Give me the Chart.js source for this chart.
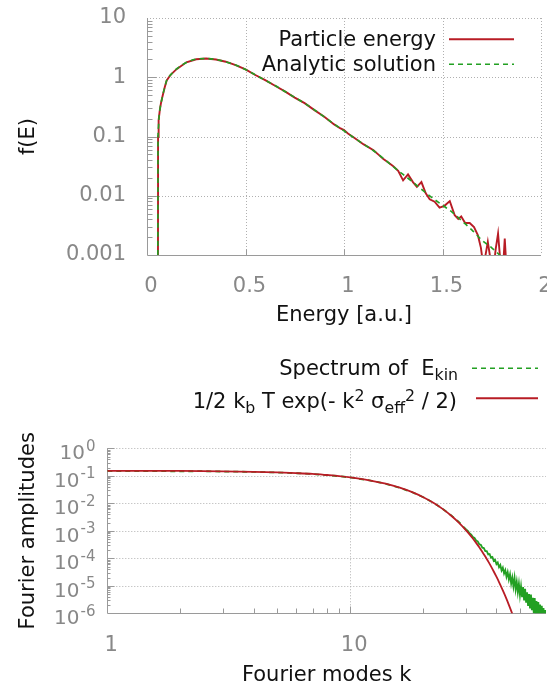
<!DOCTYPE html>
<html><head><meta charset="utf-8">
<script src="https://cdn.jsdelivr.net/npm/chart.js@4.4.1/dist/chart.umd.min.js"></script>
<style>
html,body{margin:0;padding:0;width:547px;height:686px;overflow:hidden;background:#fff;font-family:'DejaVu Sans',sans-serif;}
#c1{position:absolute;left:0;top:0;}
#c2{position:absolute;left:0;top:340px;}
.lg{position:absolute;font-size:21px;line-height:25px;color:#111;white-space:pre;text-align:right;}
.lg sub{font-size:0.75em;vertical-align:-0.3em;line-height:0;}
.lg sup{font-size:0.75em;vertical-align:0.45em;line-height:0;}
</style></head><body>
<canvas id="c1" width="547" height="340"></canvas>
<canvas id="c2" width="547" height="352"></canvas>
<div class="lg" style="right:111px;top:27px">Particle energy</div>
<div class="lg" style="right:111px;top:52px">Analytic solution</div>
<div class="lg" style="right:89px;top:356px">Spectrum of  E<sub>kin</sub></div>
<div class="lg" style="right:90px;top:388.5px">1/2 k<sub>b</sub> T exp(- k<sup>2</sup> σ<sub>eff</sub><sup>2</sup> / 2)</div>
<script>
// ---------- Top chart data ----------
const energyAnalytic = [0.055,0.0555,0.056,0.058,0.06,0.065,0.07,0.075,0.08,0.09,0.1,0.12,0.15,0.2,0.25,0.3,0.35,0.4,0.45,0.5,0.55,0.6,0.65,0.7,0.75,0.8,0.85,0.9,0.95,1.0,1.05,1.1,1.15,1.2,1.25,1.3,1.35,1.4,1.45,1.5,1.55,1.6,1.65,1.7,1.75,1.8,1.85];
const fAnalytic = [0.0005,0.01,0.1,0.141,0.19,0.275,0.355,0.417,0.5,0.676,0.891,1.096,1.38,1.778,2.018,2.065,1.995,1.82,1.603,1.349,1.096,0.891,0.724,0.575,0.457,0.363,0.282,0.214,0.162,0.1245,0.0955,0.0741,0.0575,0.0427,0.0309,0.0229,0.0170,0.0123,0.00912,0.00692,0.00525,0.00372,0.00263,0.00178,0.00132,0.000933,0.00066];
const energyParticle = [0.0556,0.0562,0.058,0.06,0.065,0.07,0.075,0.08,0.09,0.1,0.12,0.15,0.2,0.25,0.3,0.35,0.4,0.45,0.5,0.55,0.6,0.65,0.7,0.75,0.8,0.85,0.9,0.95,0.98,1.0,1.02,1.05,1.1,1.15,1.175,1.2,1.225,1.25,1.275,1.3,1.325,1.35,1.37,1.393,1.415,1.435,1.46,1.485,1.51,1.537,1.562,1.58,1.595,1.615,1.638,1.66,1.68,1.695,1.708,1.73,1.745,1.757,1.77,1.782,1.796,1.806,1.816,1.826,1.85];
const fParticle = [0.0003,0.1,0.14,0.188,0.278,0.352,0.42,0.497,0.68,0.885,1.10,1.37,1.79,2.01,2.07,1.99,1.83,1.60,1.355,1.09,0.895,0.72,0.578,0.454,0.366,0.279,0.216,0.160,0.138,0.128,0.112,0.0965,0.0735,0.0585,0.0495,0.0415,0.0363,0.0316,0.0263,0.0182,0.0229,0.0170,0.0141,0.0170,0.0110,0.0087,0.00794,0.00631,0.00676,0.00813,0.00468,0.00407,0.00447,0.00347,0.00347,0.00295,0.00214,0.00132,0.00063,0.00166,0.00079,0.0005,0.00126,0.00229,0.00063,0.0005,0.0019,0.0005,0.00025];
const energyTicks = [0,0.5,1,1.5,2];
const energyTickLabels = ['0','0.5','1','1.5','2'];
const fTicks = [0.001,0.01,0.1,1,10];
const fTickLabels = ['0.001','0.01','0.1','1','10'];

// ---------- Bottom chart data ----------
const kModel = [1,2,3,4,5,6,7,8,9,10,12,14,16,18,20,22,24,26,28,30,31,32,33,34,35,36,37,38,39,40,41,42,43,44,45,46,47,48];
const ampModel = [0.152,0.150,0.1455,0.140,0.133,0.125,0.117,0.107,0.098,0.088,0.0688,0.0516,0.037,0.0254,0.01665,0.01045,0.00627,0.0036,0.00198,0.00104,7.42e-4,5.23e-4,3.64e-4,2.52e-4,1.71e-4,1.16e-4,7.7e-5,5.09e-5,3.32e-5,2.14e-5,1.37e-5,8.63e-6,5.38e-6,3.33e-6,2.03e-6,1.23e-6,7.33e-7,4.33e-7];
const kSpectrum = [1,1.5,2,2.5,3,4,5,6,7,8,9,10,12,14,16,18,20,22,24,26,28,
  30,30.5,31,31.5,32,32.5,33,33.5,34,34.5,35,35.5,36,36.5,37,37.5,38,38.5,39,39.5,40,40.5,41,41.5,42,42.5,43,43.5,44,
  44.5,45,45.5,46,46.5,47,47.5,48,48.5,49,49.5,50,50.5,51,51.5,52,52.5,53,53.5,54,
  54.5,55,55.5,56,56.5,57,57.5,58,58.5,59,59.5,60,60.5,61,61.5,62,62.5,63,63.5,64];
const ampSpectrum = [0.150,0.148,0.146,0.147,0.143,0.139,0.132,0.124,0.116,0.106,0.097,0.087,0.068,0.051,0.0365,0.0252,0.0166,0.0105,0.0063,0.0037,0.0021,
  1.12e-3,9.89e-4,8.13e-4,7.33e-4,5.96e-4,5.50e-4,4.42e-4,4.12e-4,3.24e-4,3.09e-4,2.43e-4,2.37e-4,1.82e-4,1.82e-4,1.38e-4,1.43e-4,1.05e-4,1.11e-4,8.04e-5,8.81e-5,6.17e-5,7.08e-5,4.73e-5,5.69e-5,3.63e-5,4.57e-5,2.82e-5,3.72e-5,2.14e-5,
  3.16e-5,1.70e-5,2.63e-5,1.20e-5,2.00e-5,9.44e-6,1.95e-5,7.41e-6,1.40e-5,5.89e-6,1.19e-5,4.57e-6,9.55e-6,3.85e-6,9.02e-6,2.95e-6,7.76e-6,2.43e-6,5.82e-6,1.86e-6,
  5.01e-6,1.51e-6,4.79e-6,1.29e-6,3.63e-6,1.01e-6,3.55e-6,8.51e-7,2.79e-6,6.92e-7,2.54e-6,6.17e-7,2.09e-6,5.07e-7,1.86e-6,4.37e-7,1.55e-6,3.80e-7,1.32e-6,3.72e-7];
const kTicks = [1,10];
const kTickLabels = ['1','10'];
const ampTicks = [1,0.1,0.01,0.001,1e-4,1e-5,1e-6];
const ampTickBase = ['10','10','10','10','10','10','10'];
const ampTickExp = ['0','-1','-2','-3','-4','-5','-6'];

// ---------- Styles ----------
const RED = '#b81c25', GREEN = '#22a022';
const GRID = '#b0b0b0', AXIS = '#9a9a9a', TICKTXT = '#888888', TITLE = '#111111';
const FONT = 'DejaVu Sans';

function minorLog(minExp, maxExp){
  const out=[];
  for(let e=minExp;e<maxExp;e++){for(let m=2;m<=9;m++){out.push(m*Math.pow(10,e));}}
  return out;
}

function framePlugin(cfg){
  return {
    id:'frame'+cfg.id,
    beforeDatasetsDraw(chart){
      const {ctx, chartArea:a} = chart;
      const x = chart.scales.x, y = chart.scales.y;
      ctx.save();
      ctx.lineWidth = 1;
      ctx.strokeStyle = GRID; ctx.setLineDash([1,2]);
      cfg.xGrid.forEach(v=>{const px=Math.round(x.getPixelForValue(v))+0.5;ctx.beginPath();ctx.moveTo(px,a.top);ctx.lineTo(px,a.bottom);ctx.stroke();});
      cfg.yGrid.forEach(v=>{const py=Math.round(y.getPixelForValue(v))+0.5;ctx.beginPath();ctx.moveTo(a.left,py);ctx.lineTo(a.right,py);ctx.stroke();});
      ctx.setLineDash([]); ctx.strokeStyle = AXIS;
      const L = Math.round(a.left)+0.5, B = Math.round(a.bottom)+0.5;
      ctx.beginPath(); ctx.moveTo(L,a.top); ctx.lineTo(L,B); ctx.lineTo(a.right,B); ctx.stroke();
      const xt=(vals,len)=>vals.forEach(v=>{const px=Math.round(x.getPixelForValue(v))+0.5;ctx.beginPath();ctx.moveTo(px,B);ctx.lineTo(px,B-len);ctx.stroke();});
      const yt=(vals,len)=>vals.forEach(v=>{const py=Math.round(y.getPixelForValue(v))+0.5;ctx.beginPath();ctx.moveTo(L,py);ctx.lineTo(L+len,py);ctx.stroke();});
      xt(cfg.xMajor,cfg.xMajorLen); xt(cfg.xMinor,cfg.xMinorLen);
      yt(cfg.yMajor,cfg.yMajorLen); yt(cfg.yMinor,cfg.yMinorLen);
      ctx.restore();
    },
    afterDraw(chart){
      const ctx = chart.ctx;
      ctx.save();
      cfg.samples.forEach(s=>{
        ctx.strokeStyle=s.color; ctx.lineWidth=s.width; ctx.setLineDash(s.dash||[]);
        ctx.beginPath(); ctx.moveTo(s.x1,s.y); ctx.lineTo(s.x2,s.y); ctx.stroke();
      });
      ctx.setLineDash([]);
      if(cfg.yLabels){ cfg.yLabels(chart); }
      ctx.restore();
    }
  };
}

// ---------- Top chart ----------
new Chart(document.getElementById('c1'), {
  type:'line',
  data:{datasets:[
    {label:'Analytic solution', data:energyAnalytic.map((e,i)=>({x:e,y:fAnalytic[i]})), borderColor:GREEN, borderWidth:1.6, borderDash:[5,4], pointRadius:0, cubicInterpolationMode:'monotone', order:1},
    {label:'Particle energy', data:energyParticle.map((e,i)=>({x:e,y:fParticle[i]})), borderColor:RED, borderWidth:1.9, pointRadius:0, tension:0, order:2}
  ]},
  options:{
    responsive:false, animation:false,
    layout:{padding:{left:0,top:18,right:6,bottom:0}},
    plugins:{legend:{display:false}, tooltip:{enabled:false}},
    scales:{
      x:{type:'linear', min:0, max:2, grid:{display:false}, border:{display:false},
        afterBuildTicks:s=>{s.ticks=energyTicks.map(v=>({value:v}));},
        afterFit:s=>{s.height=85; s.paddingLeft=0; s.paddingRight=0;},
        ticks:{autoSkip:false, maxRotation:0, minRotation:0, padding:11.4, labelOffset:4, color:TICKTXT, font:{family:FONT,size:21}, callback:(v,i)=>energyTickLabels[i]},
        title:{display:true, text:'Energy [a.u.]', color:TITLE, font:{family:FONT,size:21}, padding:{top:0,bottom:11.4}}},
      y:{type:'logarithmic', min:0.001, max:10, grid:{display:false}, border:{display:false},
        afterBuildTicks:s=>{s.ticks=fTicks.map(v=>({value:v}));},
        afterFit:s=>{s.width=147; s.paddingTop=0; s.paddingBottom=0;},
        ticks:{autoSkip:false, padding:13, color:TICKTXT, font:{family:FONT,size:21}, callback:(v,i)=>fTickLabels[i]},
        title:{display:true, text:'f(E)', color:TITLE, font:{family:FONT,size:21}, padding:{top:16,bottom:0}}}
    }
  },
  plugins:[framePlugin({id:1,
    xGrid:[0.5,1,1.5,2], yGrid:[0.01,0.1,1,10],
    xMajor:[0.5,1,1.5], xMajorLen:6, xMinor:[], xMinorLen:0,
    yMajor:[0.01,0.1,1], yMajorLen:9, yMinor:minorLog(-3,1), yMinorLen:5,
    samples:[{x1:449,x2:514,y:39.3,color:RED,width:2},{x1:449,x2:514,y:64.3,color:GREEN,width:1.5,dash:[5,4]}]
  })]
});

// ---------- Bottom chart ----------
new Chart(document.getElementById('c2'), {
  type:'line',
  data:{datasets:[
    {label:'1/2 k_b T exp(- k^2 sigma_eff^2 / 2)', data:kModel.map((k,i)=>({x:k,y:ampModel[i]})), borderColor:RED, borderWidth:1.8, pointRadius:0, cubicInterpolationMode:'monotone', order:1},
    {label:'Spectrum of E_kin', data:kSpectrum.map((k,i)=>({x:k,y:ampSpectrum[i]})), borderColor:GREEN, borderWidth:1.8, borderDash:[5,4], pointRadius:0, tension:0, order:2,
      segment:{borderDash:c=>(c.p0.parsed.x>=30 ? [] : undefined)}}
  ]},
  options:{
    responsive:false, animation:false,
    layout:{padding:{left:0,top:108.3,right:1,bottom:0}},
    plugins:{legend:{display:false}, tooltip:{enabled:false}},
    scales:{
      x:{type:'logarithmic', min:1, max:64, grid:{display:false}, border:{display:false},
        afterBuildTicks:s=>{s.ticks=kTicks.map(v=>({value:v}));},
        afterFit:s=>{s.height=78.7; s.paddingLeft=0; s.paddingRight=0;},
        ticks:{autoSkip:false, maxRotation:0, minRotation:0, padding:11.6, labelOffset:4, color:TICKTXT, font:{family:FONT,size:21}, callback:(v,i)=>kTickLabels[i]},
        title:{display:true, text:'Fourier modes k', color:TITLE, font:{family:FONT,size:21}, padding:{top:0,bottom:3.4}}},
      y:{type:'logarithmic', min:1e-6, max:1, grid:{display:false}, border:{display:false},
        afterBuildTicks:s=>{s.ticks=ampTicks.map(v=>({value:v}));},
        afterFit:s=>{s.width=107.3; s.paddingTop=0; s.paddingBottom=0;},
        ticks:{display:false},
        title:{display:true, text:'Fourier amplitudes', color:TITLE, font:{family:FONT,size:21}, padding:{top:15.7,bottom:0}}}
    }
  },
  plugins:[framePlugin({id:2,
    xGrid:[10], yGrid:[1,0.1,0.01,0.001,1e-4,1e-5],
    xMajor:[10], xMajorLen:7, xMinor:[2,3,4,5,6,7,8,9,20,30,40,50,60], xMinorLen:5,
    yMajor:[1,0.1,0.01,0.001,1e-4,1e-5], yMajorLen:7, yMinor:minorLog(-6,0), yMinorLen:3,
    samples:[{x1:472,x2:538,y:28.3,color:GREEN,width:1.5,dash:[5,4]},{x1:476,x2:538,y:58.3,color:RED,width:2}],
    yLabels:(chart)=>{
      const ctx=chart.ctx, y=chart.scales.y;
      ctx.fillStyle=TICKTXT; ctx.textBaseline='alphabetic'; ctx.textAlign='right';
      ampTicks.forEach((v,i)=>{
        const py=y.getPixelForValue(v);
        ctx.font='15px "'+FONT+'"';
        const ws=ctx.measureText(ampTickExp[i]).width;
        ctx.fillText(ampTickExp[i],95.5,py+10.8-8.5);
        ctx.font='20px "'+FONT+'"';
        ctx.fillText(ampTickBase[i],95.5-ws-1,py+10.8);
      });
    }
  })]
});
</script>
</body></html>
